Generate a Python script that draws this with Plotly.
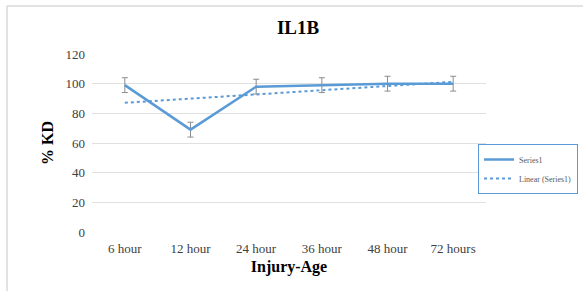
import numpy as np
import plotly.graph_objects as go

categories = ["6 hour", "12 hour", "24 hour", "36 hour", "48 hour", "72 hours"]
kd_values = [99, 69, 98, 99, 100, 100]
kd_errors = [5, 5, 5, 5, 5, 5]
y_ticks = [0, 20, 40, 60, 80, 100, 120]

xi = np.arange(1, len(kd_values) + 1)
slope, intercept = np.polyfit(xi, kd_values, 1)
trend = list(slope * xi + intercept)

W, H = 583, 291
L, R, T, B = 92, 97, 54, 59
pw, ph = W - L - R, H - T - B

def px_x(x):
    return (x - L) / pw

def px_y(y):
    return (H - B - y) / ph

fig = go.Figure()
fig.add_trace(go.Scatter(
    x=categories, y=kd_values, mode="lines", name="Series1",
    line=dict(color="#5B9BD5", width=2.5),
    error_y=dict(type="data", array=kd_errors, visible=True,
                 color="#8C8C8C", thickness=1, width=3),
))
fig.add_trace(go.Scatter(
    x=categories, y=trend, mode="lines", name="Linear (Series1)",
    line=dict(color="#5B9BD5", width=2, dash="dot"),
))

fig.update_layout(
    width=W, height=H,
    margin=dict(l=L, r=R, t=T, b=B, autoexpand=False),
    paper_bgcolor="white", plot_bgcolor="white",
    font=dict(family="Liberation Serif", color="#404040"),
    title=dict(text="<b>IL1B</b>", x=px_x(298), xref="paper", xanchor="center",
               y=1 - 27 / H, yanchor="middle",
               font=dict(size=19, color="#000000", family="Liberation Serif")),
    showlegend=True,
    legend=dict(x=px_x(478), y=px_y(144), xanchor="left", yanchor="top",
                bordercolor="#5B9BD5", borderwidth=1, bgcolor="white",
                font=dict(size=8, color="#595959", family="Liberation Serif"),
                tracegroupgap=0, itemwidth=30),
    xaxis=dict(
        type="category", categoryorder="array", categoryarray=categories,
        range=[-0.5, 5.5], showgrid=False, zeroline=False, showline=False,
        ticks="", ticklabelstandoff=7, tickfont=dict(size=13, color="#404040"),
        title=dict(text="<b>Injury-Age</b>", standoff=5,
                   font=dict(size=16, color="#000000")),
    ),
    yaxis=dict(
        range=[0, 120], tickvals=y_ticks, showgrid=True, gridcolor="#E0E0E0",
        gridwidth=1, zeroline=False, showline=False, ticks="",
        ticklabelstandoff=6, tickfont=dict(size=13, color="#404040"),
        title=dict(text="<b>% KD</b>", standoff=7,
                   font=dict(size=16, color="#000000")),
    ),
    shapes=[
        dict(type="line", xref="paper", yref="paper",
             x0=px_x(7), x1=px_x(W + 5), y0=px_y(6), y1=px_y(6),
             line=dict(color="#D9D9D9", width=1.5)),
        dict(type="line", xref="paper", yref="paper",
             x0=px_x(7), x1=px_x(7), y0=px_y(6), y1=px_y(H + 5),
             line=dict(color="#D9D9D9", width=1.5)),
    ],
)

fig.write_html("out.html", config={"displayModeBar": False},
               post_script="document.body.style.margin='0px';")
